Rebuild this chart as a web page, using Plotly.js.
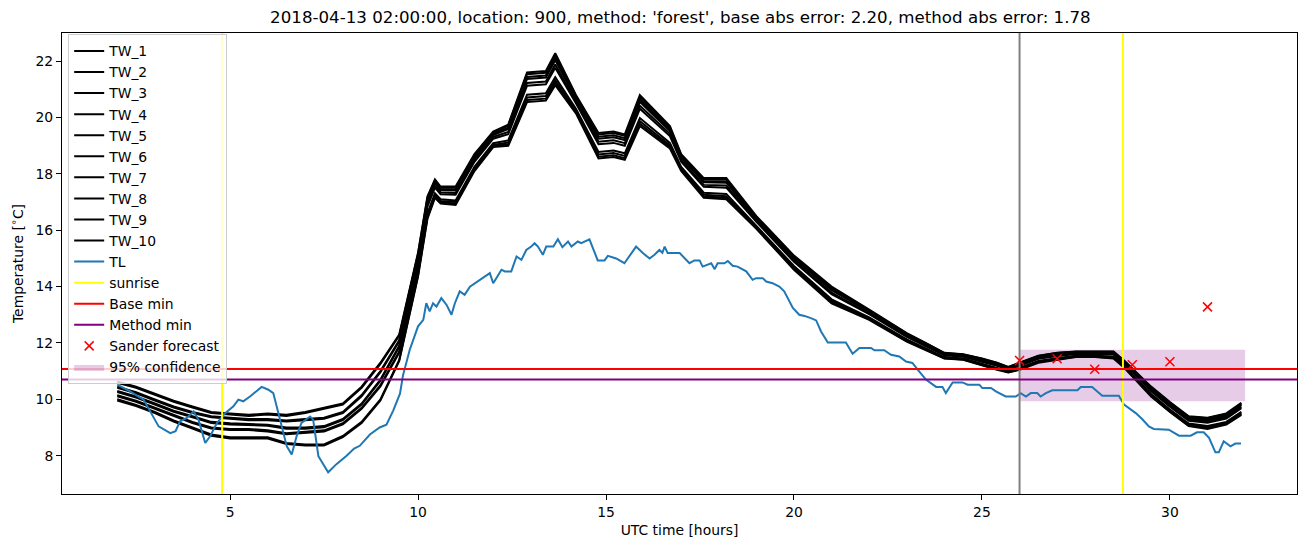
<!DOCTYPE html>
<html>
<head>
<meta charset="utf-8">
<script src="https://cdn.plot.ly/plotly-3.0.1.min.js"></script>
<style>
  html, body { margin: 0; padding: 0; background: #fff; }
  #chart { width: 1311px; height: 547px; }
</style>
</head>
<body>
<div id="chart"></div>
<script>
// hours since 2018-04-13 00:00 UTC, shared by the ten TW forecasts
var twTime = [2.0, 2.5, 3.0, 3.5, 4.0, 4.5, 5.0, 5.5, 6.0, 6.5, 7.0, 7.5, 8.0, 8.5, 9.0, 9.5, 10.0,
    10.25, 10.45, 10.6, 11.0, 11.5, 12.0, 12.4, 12.9, 13.4, 13.65, 14.2, 14.8, 15.2, 15.5, 15.9, 16.3, 16.7, 17.0,
    17.6, 18.2, 19.0, 20.0, 21.0, 22.0, 23.0, 23.5, 24.0, 24.5, 25.0, 25.4, 25.7, 26.0, 26.5, 27.0, 27.5, 28.0,
    28.5, 28.8, 29.5, 30.0, 30.5, 31.0, 31.5, 31.9];

var tw1 = [10.63, 10.45, 10.2, 9.95, 9.75, 9.55, 9.5, 9.45, 9.5, 9.45, 9.55, 9.7, 9.85, 10.45, 11.3, 12.3, 15.2,
    17.2, 17.8, 17.55, 17.55, 18.7, 19.5, 19.75, 21.6, 21.65, 22.28, 20.8, 19.45, 19.5, 19.4, 20.8, 20.25, 19.7, 18.7,
    17.85, 17.85, 16.5, 15.1, 14.0, 13.18, 12.35, 12.0, 11.65, 11.6, 11.45, 11.3, 11.15, 11.3, 11.55, 11.65, 11.7, 11.7,
    11.7, 11.35, 10.45, 9.9, 9.4, 9.35, 9.5, 9.88];
var tw2 = [10.59, 10.41, 10.16, 9.91, 9.71, 9.51, 9.46, 9.41, 9.46, 9.41, 9.51, 9.66, 9.81, 10.41, 11.26, 12.26, 15.16,
    17.15, 17.76, 17.51, 17.51, 18.66, 19.47, 19.71, 21.54, 21.59, 22.21, 20.76, 19.4, 19.45, 19.35, 20.73, 20.19, 19.65, 18.66,
    17.81, 17.81, 16.47, 15.07, 13.96, 13.16, 12.33, 11.99, 11.64, 11.59, 11.44, 11.29, 11.14, 11.29, 11.54, 11.64, 11.69, 11.69,
    11.69, 11.34, 10.43, 9.88, 9.38, 9.33, 9.48, 9.85];
var tw3 = [10.45, 10.25, 10.0, 9.75, 9.55, 9.4, 9.35, 9.3, 9.3, 9.25, 9.3, 9.35, 9.55, 10.15, 11.0, 12.1, 15.0,
    17.08, 17.7, 17.46, 17.45, 18.61, 19.42, 19.64, 21.44, 21.49, 22.11, 20.7, 19.32, 19.37, 19.27, 20.64, 20.11, 19.58, 18.61,
    17.75, 17.74, 16.43, 15.03, 13.91, 13.13, 12.31, 11.96, 11.62, 11.57, 11.41, 11.26, 11.12, 11.26, 11.51, 11.61, 11.67, 11.67,
    11.66, 11.31, 10.4, 9.85, 9.35, 9.29, 9.44, 9.82];
var tw4 = [10.41, 10.21, 9.96, 9.71, 9.51, 9.36, 9.31, 9.26, 9.26, 9.21, 9.26, 9.31, 9.51, 10.11, 10.96, 12.06, 14.96,
    17.02, 17.66, 17.42, 17.41, 18.57, 19.38, 19.59, 21.37, 21.42, 22.03, 20.66, 19.25, 19.3, 19.2, 20.56, 20.04, 19.52, 18.57,
    17.7, 17.69, 16.4, 14.99, 13.87, 13.1, 12.28, 11.95, 11.61, 11.56, 11.4, 11.25, 11.11, 11.25, 11.5, 11.6, 11.66, 11.66,
    11.65, 11.3, 10.37, 9.82, 9.32, 9.26, 9.41, 9.79];
var tw5 = [10.3, 10.1, 9.85, 9.6, 9.4, 9.2, 9.15, 9.12, 9.1, 9.0, 9.0, 9.05, 9.3, 9.85, 10.7, 11.9, 14.8,
    16.92, 17.57, 17.34, 17.32, 18.49, 19.31, 19.49, 21.23, 21.28, 21.88, 20.57, 19.14, 19.19, 19.09, 20.42, 19.92, 19.42, 18.49,
    17.61, 17.59, 16.34, 14.93, 13.79, 13.05, 12.25, 11.91, 11.58, 11.53, 11.36, 11.21, 11.08, 11.21, 11.46, 11.56, 11.63, 11.63,
    11.61, 11.26, 10.33, 9.78, 9.28, 9.21, 9.36, 9.73];
var tw6 = [10.26, 10.06, 9.81, 9.56, 9.36, 9.16, 9.11, 9.08, 9.06, 8.96, 8.96, 9.01, 9.26, 9.81, 10.66, 11.86, 14.76,
    16.84, 17.51, 17.28, 17.26, 18.43, 19.25, 19.41, 21.13, 21.18, 21.77, 20.51, 19.05, 19.1, 19.0, 20.31, 19.82, 19.34, 18.43,
    17.54, 17.51, 16.3, 14.88, 13.73, 13.02, 12.22, 11.89, 11.56, 11.51, 11.34, 11.19, 11.06, 11.19, 11.44, 11.54, 11.61, 11.61,
    11.59, 11.24, 10.29, 9.74, 9.24, 9.17, 9.32, 9.69];
var tw7 = [10.15, 9.95, 9.7, 9.45, 9.2, 9.0, 8.95, 8.95, 8.9, 8.8, 8.85, 8.9, 9.15, 9.7, 10.5, 11.7, 14.6,
    16.6, 17.31, 17.1, 17.06, 18.25, 19.09, 19.19, 20.81, 20.86, 21.43, 20.31, 18.78, 18.83, 18.73, 19.98, 19.54, 19.1, 18.25,
    17.33, 17.29, 16.16, 14.73, 13.55, 12.91, 12.13, 11.81, 11.5, 11.45, 11.26, 11.11, 11.0, 11.11, 11.36, 11.46, 11.55, 11.55,
    11.51, 11.16, 10.19, 9.64, 9.14, 9.05, 9.2, 9.56];
var tw8 = [10.11, 9.91, 9.66, 9.41, 9.16, 8.96, 8.91, 8.91, 8.86, 8.76, 8.81, 8.86, 9.11, 9.66, 10.46, 11.66, 14.56,
    16.52, 17.25, 17.04, 17.0, 18.19, 19.03, 19.11, 20.71, 20.76, 21.32, 20.25, 18.69, 18.74, 18.64, 19.87, 19.44, 19.02, 18.19,
    17.26, 17.21, 16.12, 14.68, 13.49, 12.87, 12.1, 11.79, 11.48, 11.43, 11.24, 11.09, 10.98, 11.09, 11.34, 11.44, 11.53, 11.53,
    11.49, 11.14, 10.15, 9.6, 9.1, 9.01, 9.16, 9.51];
var tw9 = [10.0, 9.8, 9.55, 9.25, 9.0, 8.75, 8.65, 8.65, 8.65, 8.45, 8.4, 8.4, 8.7, 9.2, 10.0, 11.4, 14.4,
    16.46, 17.2, 16.99, 16.95, 18.14, 18.99, 19.05, 20.62, 20.67, 21.23, 20.2, 18.61, 18.66, 18.56, 19.78, 19.37, 18.96, 18.14,
    17.2, 17.15, 16.08, 14.64, 13.44, 12.85, 12.07, 11.77, 11.46, 11.41, 11.22, 11.07, 10.96, 11.07, 11.32, 11.42, 11.51, 11.51,
    11.47, 11.12, 10.12, 9.57, 9.07, 8.98, 9.13, 9.48];
var tw10 = [9.96, 9.76, 9.51, 9.21, 8.96, 8.71, 8.61, 8.61, 8.61, 8.41, 8.36, 8.36, 8.66, 9.16, 9.96, 11.36, 14.36,
    16.4, 17.15, 16.95, 16.9, 18.1, 18.95, 19.0, 20.55, 20.6, 21.15, 20.15, 18.55, 18.6, 18.5, 19.7, 19.3, 18.9, 18.1,
    17.15, 17.1, 16.05, 14.6, 13.4, 12.82, 12.05, 11.75, 11.45, 11.4, 11.2, 11.05, 10.95, 11.05, 11.3, 11.4, 11.5, 11.5,
    11.45, 11.1, 10.1, 9.55, 9.05, 8.95, 9.1, 9.45];

// measured TL
var tlTime = [2.0, 2.34, 2.7, 2.96, 3.1, 3.41, 3.55, 3.67, 3.85, 4.03, 4.16, 4.34, 4.47, 4.65, 4.87, 5.09, 5.22, 5.35,
    5.53, 5.84, 6.02, 6.15, 6.33, 6.51, 6.64, 6.77, 6.9, 7.13, 7.21, 7.35, 7.61, 7.83, 8.1, 8.3, 8.45, 8.72, 8.98,
    9.16, 9.34, 9.52, 9.6, 9.78, 10.0, 10.14, 10.22, 10.31, 10.4, 10.49, 10.62, 10.76, 10.89, 10.98, 11.11, 11.24,
    11.38, 11.64, 11.91, 12.0, 12.09, 12.22, 12.31, 12.48, 12.62, 12.75, 12.88, 13.01, 13.1, 13.19, 13.32, 13.41,
    13.6, 13.72, 13.84, 13.99, 14.08, 14.25, 14.34, 14.56, 14.78, 14.96, 15.05, 15.27, 15.49, 15.8, 15.98, 16.16,
    16.29, 16.42, 16.5, 16.56, 16.64, 16.96, 17.22, 17.35, 17.49, 17.57, 17.8, 17.89, 17.97, 18.15, 18.24, 18.37,
    18.5, 18.73, 18.9, 18.99, 19.17, 19.26, 19.43, 19.61, 19.74, 19.97, 20.14, 20.28, 20.45, 20.59, 20.72, 20.9,
    21.38, 21.56, 21.74, 22.05, 22.14, 22.4, 22.58, 22.8, 22.98, 23.15, 23.29, 23.51, 23.78, 23.95, 24.04, 24.22,
    24.48, 24.62, 24.93, 25.01, 25.24, 25.37, 25.63, 25.9, 26.03, 26.17, 26.3, 26.47, 26.56, 26.7, 26.87, 27.54,
    27.63, 27.93, 28.2, 28.64, 28.78, 29.09, 29.26, 29.44, 29.57, 29.97, 30.24, 30.55, 30.72, 30.9, 31.04, 31.21,
    31.3, 31.43, 31.61, 31.74, 31.89];
var tlTemp = [10.52, 10.28, 9.99, 9.39, 9.04, 8.8, 8.87, 9.22, 9.34, 9.57, 9.28, 8.45, 8.69, 9.16, 9.51, 9.75, 9.99, 9.93,
    10.1, 10.44, 10.34, 10.22, 9.28, 8.33, 8.04, 8.69, 9.16, 9.39, 9.28, 7.98, 7.41, 7.7, 8.0, 8.25, 8.35, 8.75, 9.0,
    9.1, 9.6, 10.2, 10.85, 11.76, 12.59, 12.82, 13.41, 13.12, 13.41, 13.29, 13.59, 13.35, 13.0, 13.41, 13.83, 13.71,
    14.0, 14.24, 14.48, 14.12, 14.3, 14.6, 14.54, 14.54, 15.07, 14.95, 15.3, 15.42, 15.54, 15.42, 15.13, 15.42,
    15.42, 15.68, 15.4, 15.6, 15.42, 15.6, 15.54, 15.68, 14.93, 14.93, 15.09, 15.0, 14.83, 15.42, 15.19, 15.0,
    15.13, 15.3, 15.2, 15.42, 15.19, 15.19, 14.83, 14.93, 14.93, 14.71, 14.83, 14.62, 14.83, 14.83, 14.91, 14.74,
    14.71, 14.54, 14.24, 14.3, 14.3, 14.18, 14.12, 14.0, 13.83, 13.24, 13.0, 12.96, 12.88, 12.8, 12.41, 12.02,
    12.02, 11.62, 11.82, 11.82, 11.74, 11.74, 11.58, 11.52, 11.34, 11.29, 11.05, 10.7, 10.44, 10.44, 10.22, 10.6,
    10.6, 10.52, 10.52, 10.4, 10.4, 10.28, 10.1, 10.1, 10.22, 10.1, 10.22, 10.22, 10.1, 10.22, 10.32, 10.32,
    10.44, 10.44, 10.13, 10.13, 9.81, 9.51, 9.3, 9.04, 8.95, 8.92, 8.71, 8.71, 8.83, 8.83, 8.63, 8.12,
    8.12, 8.51, 8.33, 8.43, 8.43];

var sunriseHours = [4.79, 28.75];
var forecastStart = 26.0;
var baseMin = 11.08;
var methodMin = 10.70;
var sanderHours = [26, 27, 28, 29, 30, 31];
var sanderTemps = [11.38, 11.44, 11.07, 11.23, 11.33, 13.28];
var confHours = [26.0, 32.0];
var confTemps = [9.93, 11.76];

var X_RANGE = [0.53, 33.38];
var Y_RANGE = [6.64, 23.0];
var FONT = 'DejaVu Sans, Arial, sans-serif';

document.addEventListener('DOMContentLoaded', function () {
    var twSeries = [tw1, tw2, tw3, tw4, tw5, tw6, tw7, tw8, tw9, tw10];
    var traces = [];

    // confidence band first so every line sits on top of it
    traces.push({
        x: [confHours[0], confHours[1], confHours[1], confHours[0], confHours[0]],
        y: [confTemps[0], confTemps[0], confTemps[1], confTemps[1], confTemps[0]],
        mode: 'lines',
        fill: 'toself',
        fillcolor: 'rgba(128,0,128,0.2)',
        line: { width: 0, color: 'rgba(128,0,128,0)' },
        name: '95% confidence',
        legendrank: 2000
    });

    for (var i = 0; i < twSeries.length; i++) {
        traces.push({
            x: twTime,
            y: twSeries[i],
            mode: 'lines',
            name: 'TW_' + (i + 1),
            line: { color: 'black', width: 2 }
        });
    }

    traces.push({
        x: tlTime,
        y: tlTemp,
        mode: 'lines',
        name: 'TL',
        line: { color: '#1f77b4', width: 2 }
    });

    // forecast time marker, not in the legend
    traces.push({
        x: [forecastStart, forecastStart],
        y: Y_RANGE,
        mode: 'lines',
        showlegend: false,
        line: { color: 'grey', width: 2 }
    });

    var sx = [], sy = [];
    sunriseHours.forEach(function (h) {
        sx.push(h, h, null);
        sy.push(Y_RANGE[0], Y_RANGE[1], null);
    });
    traces.push({
        x: sx,
        y: sy,
        mode: 'lines',
        name: 'sunrise',
        line: { color: 'yellow', width: 2 }
    });

    traces.push({
        x: X_RANGE,
        y: [baseMin, baseMin],
        mode: 'lines',
        name: 'Base min',
        line: { color: 'red', width: 2 }
    });
    traces.push({
        x: X_RANGE,
        y: [methodMin, methodMin],
        mode: 'lines',
        name: 'Method min',
        line: { color: 'purple', width: 2 }
    });

    traces.push({
        x: sanderHours,
        y: sanderTemps,
        mode: 'markers',
        name: 'Sander forecast',
        marker: { symbol: 'x-thin', size: 9, color: 'red', line: { color: 'red', width: 1.5 } }
    });

    var axisCommon = {
        showline: true,
        mirror: true,
        linecolor: 'black',
        linewidth: 1,
        ticks: 'outside',
        ticklen: 5,
        tickwidth: 1,
        tickcolor: 'black',
        showgrid: false,
        zeroline: false,
        tickfont: { family: FONT, size: 13.9, color: 'black' }
    };

    var layout = {
        width: 1311,
        height: 547,
        margin: { l: 62, r: 14, t: 33, b: 53 },
        paper_bgcolor: '#fff',
        plot_bgcolor: '#fff',
        font: { family: FONT, size: 13.9, color: 'black' },
        title: {
            text: "2018-04-13 02:00:00, location: 900, method: 'forest', base abs error: 2.20, method abs error: 1.78",
            font: { family: FONT, size: 16.67, color: 'black' },
            x: 0.519,
            xanchor: 'center',
            y: 1 - 17 / 547,
            yanchor: 'middle'
        },
        xaxis: Object.assign({}, axisCommon, {
            range: X_RANGE,
            tickvals: [5, 10, 15, 20, 25, 30],
            title: { text: 'UTC time [hours]', font: { family: FONT, size: 13.9, color: 'black' }, standoff: 6 }
        }),
        yaxis: Object.assign({}, axisCommon, {
            range: Y_RANGE,
            tickvals: [8, 10, 12, 14, 16, 18, 20, 22],
            title: { text: 'Temperature [<sup>∘</sup>C]', font: { family: FONT, size: 13.9, color: 'black' }, standoff: 8 }
        }),
        showlegend: true,
        legend: {
            x: 0.005,
            y: 0.997,
            xanchor: 'left',
            yanchor: 'top',
            bgcolor: 'rgba(255,255,255,0.8)',
            bordercolor: '#cccccc',
            borderwidth: 1,
            font: { family: FONT, size: 13.9, color: 'black' },
            traceorder: 'normal'
        }
    };

    Plotly.newPlot('chart', traces, layout, { displayModeBar: false, staticPlot: true });
});
</script>
</body>
</html>
